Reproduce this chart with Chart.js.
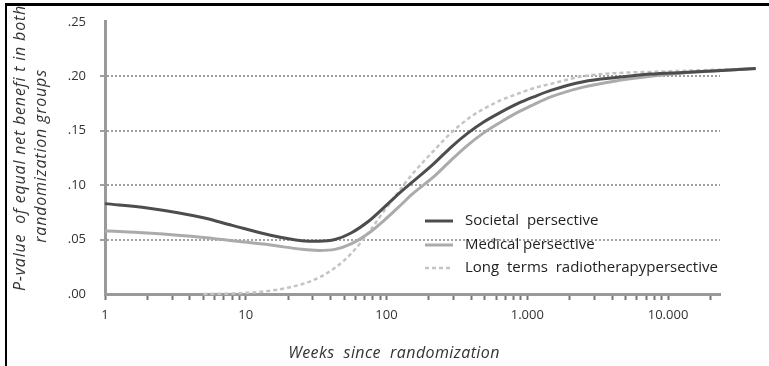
<!DOCTYPE html>
<html>
<head>
<meta charset="utf-8">
<script src="https://cdn.jsdelivr.net/npm/chart.js@4/dist/chart.umd.min.js"></script>
<style>
  body { margin: 0; background: #fff; }
  #wrap { position: relative; width: 769px; height: 366px; overflow: hidden; }
  .rule { position: absolute; background: #000; }
</style>
</head>
<body>
<div id="wrap">
  <canvas id="chart"></canvas>
  <div class="rule" style="left:5px; top:3px; width:764px; height:3px;"></div>
  <div class="rule" style="left:5px; top:3px; width:2px; height:363px;"></div>
</div>
<script>
// values (weeks on a log axis)
const weeks = [1, 2, 5, 8, 15, 25, 33, 43, 56, 75, 97, 127, 150, 218, 288, 380, 490, 650, 860, 1110, 1470, 2500, 4400, 7500, 12800, 22300, 42000];
const societal = [.083, .079, .070, .063, .054, .049, .0485, .050, .056, .067, .080, .094, .102, .120, .135, .148, .158, .167, .175, .181, .187, .195, .199, .202, .2035, .205, .207];
const medical = [.058, .056, .052, .049, .045, .041, .040, .041, .046, .056, .068, .082, .091, .108, .123, .137, .148, .158, .167, .174, .181, .190, .196, .200, .203, .205, .207];
const longTerm = [null, null, 0, .0005, .003, .009, .015, .024, .037, .057, .077, .097, .109, .132, .148, .161, .170, .178, .184, .189, .193, .200, .203, .204, .205, .206, .207];
const seriesLabels = ['Societal  persective', 'Medical persective', 'Long  terms  radiotherapypersective'];
const decadeTicks = [1, 10, 100, 1000, 10000];
const yTitle = ['P-value  of equal net benefi t in both', 'randomization groups'];
const xTitle = 'Weeks  since  randomization';

function toPoints(values) {
    return weeks.map((w, i) => ({ x: w, y: values[i] })).filter(p => p.y !== null);
}

function fmtThousands(v) {
    return String(v).replace(/\B(?=(\d{3})+(?!\d))/g, '.');
}

const FONT = '"Open Sans", sans-serif';

// axis titles and the in-plot legend
const extras = {
    id: 'extras',
    afterDraw(chart) {
        const ctx = chart.ctx;
        ctx.save();
        ctx.beginPath();
        ctx.rect(0, 6, chart.width, chart.height);
        ctx.clip();
        ctx.fillStyle = '#333';
        ctx.font = 'italic 16px ' + FONT;
        ctx.letterSpacing = '0.8px';
        ctx.textBaseline = 'middle';
        ctx.save();
        ctx.translate(20, 291);
        ctx.rotate(-Math.PI / 2);
        ctx.textAlign = 'left';
        ctx.fillText(yTitle[0], 0, 0);
        ctx.restore();
        ctx.save();
        ctx.translate(41, 156);
        ctx.rotate(-Math.PI / 2);
        ctx.textAlign = 'center';
        ctx.fillText(yTitle[1], 0, 0);
        ctx.restore();
        ctx.letterSpacing = '0.4px';
        ctx.textAlign = 'center';
        ctx.fillText(xTitle, 394, 353);
        ctx.restore();

        const rows = [221, 245, 268];
        ctx.save();
        ctx.font = '15px ' + FONT;
        ctx.textBaseline = 'middle';
        ctx.textAlign = 'left';
        chart.data.datasets.forEach((ds, i) => {
            ctx.save();
            ctx.strokeStyle = ds.borderColor;
            ctx.lineWidth = ds.borderWidth;
            ctx.setLineDash(ds.borderDash || []);
            ctx.beginPath();
            ctx.moveTo(425, rows[i]);
            ctx.lineTo(453, rows[i]);
            ctx.stroke();
            ctx.restore();
            ctx.fillStyle = '#222';
            ctx.fillText(ds.label, 465, rows[i]);
        });
        ctx.restore();
    }
};

new Chart(document.getElementById('chart'), {
    type: 'line',
    data: {
        datasets: [{
            label: seriesLabels[0],
            data: toPoints(societal),
            borderColor: '#4d4d4d',
            borderWidth: 3
        }, {
            label: seriesLabels[1],
            data: toPoints(medical),
            borderColor: '#ababab',
            borderWidth: 3
        }, {
            label: seriesLabels[2],
            data: toPoints(longTerm),
            borderColor: '#c4c4c4',
            borderWidth: 2.5,
            borderDash: [4, 3]
        }]
    },
    options: {
        responsive: true,
        maintainAspectRatio: false,
        animation: false,
        layout: { padding: { top: 16, right: 49, bottom: 0, left: 0 } },
        elements: {
            point: { radius: 0 },
            line: { cubicInterpolationMode: 'monotone', fill: false }
        },
        datasets: { line: { clip: { left: 5, top: 5, right: 45, bottom: 5 } } },
        plugins: {
            legend: { display: false },
            tooltip: { enabled: false }
        },
        scales: {
            x: {
                type: 'logarithmic',
                min: 1,
                max: 23400,
                afterBuildTicks(scale) {
                    const t = [];
                    for (let p = 1; p <= 10000; p *= 10) {
                        for (let m = 1; m <= 9; m++) {
                            if (m * p <= scale.max) t.push({ value: m * p });
                        }
                    }
                    scale.ticks = t;
                },
                afterFit(scale) { scale.height = 72; },
                ticks: {
                    autoSkip: false,
                    maxRotation: 0,
                    padding: 7,
                    color: '#333',
                    font: { family: FONT, size: 13 },
                    callback: v => decadeTicks.includes(v) ? fmtThousands(v) : ''
                },
                grid: {
                    drawOnChartArea: false,
                    drawTicks: true,
                    tickLength: 6,
                    tickWidth: 2,
                    tickColor: '#777'
                },
                border: { color: '#9a9a9a', width: 3 }
            },
            y: {
                min: 0,
                max: 0.25,
                afterFit(scale) { scale.width = 105; },
                ticks: {
                    stepSize: 0.05,
                    padding: 14,
                    color: '#333',
                    font: { family: FONT, size: 13 },
                    callback: v => v.toFixed(2).replace('0.', '.')
                },
                grid: {
                    color: c => (c.tick && (c.tick.value === 0 || Math.abs(c.tick.value - 0.25) < 1e-6)) ? 'rgba(0,0,0,0)' : '#a0a0a0',
                    lineWidth: 2,
                    tickLength: 5
                },
                border: { color: '#9a9a9a', width: 3, dash: [2, 2] }
            }
        }
    },
    plugins: [extras]
});
</script>
</body>
</html>
